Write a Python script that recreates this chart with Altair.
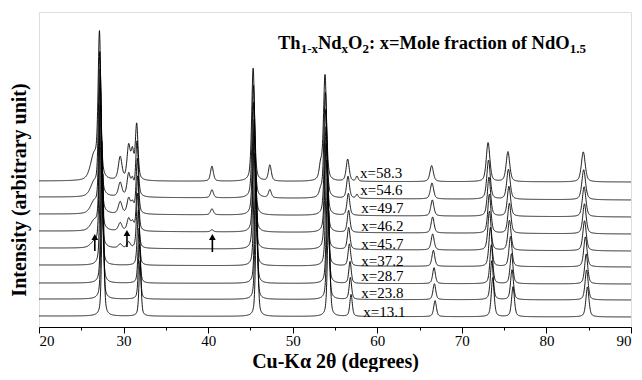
import altair as alt
import pandas as pd
import numpy as np

alt.data_transformers.disable_max_rows()

# ---------------- data ----------------
compositions = ["x=13.1", "x=23.8", "x=28.7", "x=37.2", "x=45.7",
                "x=46.2", "x=49.7", "x=54.6", "x=58.3"]          # bottom -> top
baseline_left = [11, 28, 44, 62, 79, 96, 113, 130, 146]            # offset of each trace at 2θ=20
baseline_right = [10, 27, 43, 60, 76, 93, 110, 127, 145]           # offset at 2θ=90

# fluorite reflections (111,200,220,311,222,400,331,420,422)
main_pos_low = [27.55, 31.95, 45.75, 54.25, 56.90, 66.83, 73.65, 76.05, 84.85]   # x=13.1
main_pos_high = [27.15, 31.55, 45.32, 53.82, 56.50, 66.43, 73.10, 75.45, 84.36]  # x=58.3
main_heights = [142, 55, 113, 106, 22, 16, 39, 30, 30]
main_fwhm = [0.30, 0.30, 0.32, 0.34, 0.34, 0.38, 0.40, 0.40, 0.43]
shift_fraction = [0.0, 0.2, 0.3, 0.5, 0.7, 0.72, 0.8, 0.9, 1.0]
width_scale = [1.0, 1.0, 1.0, 1.05, 1.1, 1.1, 1.15, 1.2, 1.25]

# additional reflections of the Nd-rich samples
extra_pos = [26.5, 29.6, 30.6, 31.05, 40.45, 47.3, 53.3, 57.6]
extra_fwhm = [1.0, 0.5, 0.45, 0.4, 0.4, 0.4, 0.4, 0.3]
extra_heights = [
    [0, 0, 0, 0, 5, 9, 11, 13, 24],
    [0, 0, 0, 0, 4, 8, 12, 14, 23],
    [0, 0, 0, 0, 6, 12, 15, 22, 33],
    [0, 0, 0, 0, 0, 8, 10, 15, 26],
    [0, 0, 0, 0, 0, 2, 6, 8, 15],
    [0, 0, 0, 0, 0, 0, 0, 8, 16],
    [0, 0, 0, 0, 0, 0, 0, 6, 14],
    [0, 0, 0, 0, 0, 0, 0, 4, 5],
]

label_x = [58.35, 58.1, 58.1, 58.1, 58.1, 58.1, 58.1, 58.0, 57.95]
label_y = [15.3, 34, 51, 66.3, 83, 101, 119, 137, 153.7]

arrow_x = [26.6, 30.4, 40.5]
arrow_y0 = [76, 80, 75]
arrow_y1 = [90, 94, 90]

x_ticks = [20, 25, 30, 35, 40, 45, 50, 55, 60, 65, 70, 75, 80, 85, 90]

# ---------------- build the traces ----------------
def pv(x, x0, fwhm, eta=0.5):
    u = (x - x0) / (fwhm / 2.0)
    return eta / (1 + u * u) + (1 - eta) * np.exp(-np.log(2) * u * u)

grid = np.arange(20.0, 90.0001, 0.025)
rows = []
for i, name in enumerate(compositions):
    y = baseline_left[i] + (baseline_right[i] - baseline_left[i]) * (grid - 20) / 70.0
    f = shift_fraction[i]
    for k in range(len(main_heights)):
        p = main_pos_low[k] + (main_pos_high[k] - main_pos_low[k]) * f
        y = y + main_heights[k] * pv(grid, p, main_fwhm[k] * width_scale[i])
    for k in range(len(extra_pos)):
        h = extra_heights[k][i]
        if h:
            y = y + h * pv(grid, extra_pos[k], extra_fwhm[k])
    rows.append(pd.DataFrame({"theta": grid, "I": y, "trace": name, "idx": i}))
df = pd.concat(rows, ignore_index=True)

labels = pd.DataFrame({"x": label_x, "y": label_y, "t": compositions})
arrows = pd.DataFrame({"x": arrow_x, "y0": arrow_y0, "y1": arrow_y1})

W, H = 592, 315
xscale = alt.Scale(domain=[20, 90], nice=False, zero=False)
yscale = alt.Scale(domain=[0, 315], nice=False, zero=False)

lines = alt.Chart(df).mark_line(color="black", strokeWidth=0.9, clip=True).encode(
    x=alt.X("theta:Q", scale=xscale,
            axis=alt.Axis(values=x_ticks, title="Cu-Kα 2θ (degrees)",
                          labelExpr="datum.value % 10 === 0 ? datum.label : ''",
                          tickSize={"condition": {"test": "datum.value % 10 === 0", "value": 6}, "value": 3},
                          tickColor="black", domainColor="black", labelColor="black",
                          labelFont="Liberation Serif", labelFontSize=15, labelPadding=0,
                          titleFont="Liberation Serif", titleFontSize=20, titleFontWeight="bold",
                          titleColor="black", titleBaseline="alphabetic", titleY=40,
                          grid=False)),
    y=alt.Y("I:Q", scale=yscale, axis=None),
    detail="idx:N",
    order="theta:Q",
)

lab = alt.Chart(labels).mark_text(font="Liberation Serif", fontSize=15, align="left",
                                  baseline="middle", color="black").encode(
    x=alt.X("x:Q", scale=xscale), y=alt.Y("y:Q", scale=yscale), text="t:N")

shaft = alt.Chart(arrows).mark_rule(color="black", strokeWidth=1.6).encode(
    x=alt.X("x:Q", scale=xscale), y=alt.Y("y0:Q", scale=yscale), y2="y1:Q")
head = alt.Chart(arrows).mark_point(shape="triangle-up", filled=True, color="black",
                                    size=45, opacity=1).encode(
    x=alt.X("x:Q", scale=xscale), y=alt.Y("y1:Q", scale=yscale))

# rich-text title with subscripts
char_w = {"T": 667, "h": 556, "1": 500, "-": 333, "x": 500, "N": 722, "d": 556, "O": 778,
          "2": 500, ":": 333, " ": 250, "=": 570, "M": 944, "o": 500, "l": 278, "e": 444,
          "f": 333, "r": 444, "a": 500, "c": 444, "t": 333, "i": 278, "n": 556, ".": 250, "5": 500}
segments = [("Th", False), ("1-x", True), ("Nd", False), ("x", True), ("O", False),
            ("2", True), (": x=Mole fraction of NdO", False), ("1.5", True)]
main_fs, sub_fs = 18.5, 13
x0, base_y = 239, 37
seg_rows = []
cur = x0
for txt, sub in segments:
    fs = sub_fs if sub else main_fs
    seg_rows.append({"t": txt, "px": cur, "py": base_y + (4 if sub else 0), "fs": fs})
    cur += sum(char_w.get(c, 500) for c in txt) / 1000.0 * fs
title_layers = []
for r in seg_rows:
    title_layers.append(
        alt.Chart(pd.DataFrame({"t": [r["t"]]})).mark_text(
            font="Liberation Serif", fontWeight="bold", fontSize=r["fs"], align="left",
            baseline="alphabetic", color="black").encode(
            x=alt.value(r["px"]), y=alt.value(r["py"]), text="t:N"))

ytitle = alt.Chart(pd.DataFrame({"t": ["Intensity (arbitrary unit)"]})).mark_text(
    font="Liberation Serif", fontWeight="bold", fontSize=20, angle=270, align="center",
    baseline="middle", color="black").encode(
    x=alt.value(-19), y=alt.value(178), text="t:N")

chart = alt.layer(lines, lab, shaft, head, ytitle, *title_layers).properties(
    width=W, height=H,
    autosize=alt.AutoSizeParams(type="none"),
    padding={"left": 31, "top": 4, "right": 3, "bottom": 45},
).configure_view(stroke="black", strokeWidth=1).configure(background="white")

chart.save("out.html", embed_options={"renderer": "svg", "actions": False})
